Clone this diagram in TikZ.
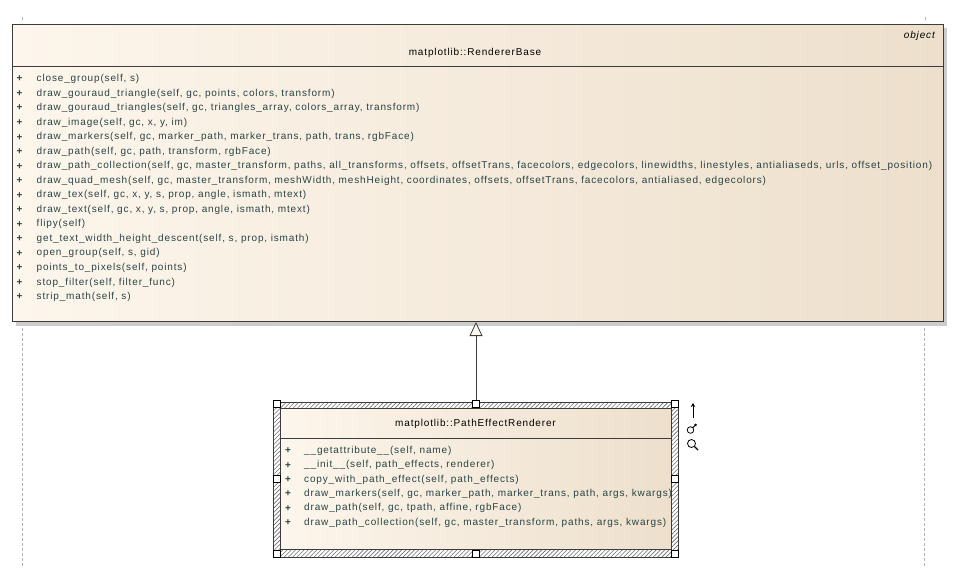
\documentclass[tikz,border=0pt]{standalone}
\usepackage{fontspec}
\setmainfont{Liberation Sans}
\newfontfamily\umlfont[LetterSpace=8.5]{Liberation Sans}
\usepackage{tikz}
\usetikzlibrary{arrows.meta, positioning, patterns.meta, calc}
\definecolor{boxlight}{RGB}{253,246,236}
\definecolor{boxdark}{RGB}{237,223,204}
\definecolor{edgegray}{RGB}{60,60,60}
\definecolor{methodteal}{RGB}{40,68,68}
\definecolor{shadowgray}{RGB}{204,204,204}

\begin{document}
\begin{tikzpicture}[x=1pt, y=-1pt,
    classbox/.style={rectangle, draw=edgegray, line width=1pt, left color=boxlight, right color=boxdark, inner sep=0pt},
    selframe/.style={rectangle, draw=edgegray, line width=0.6pt, pattern={Lines[angle=45, distance=3pt, line width=0.6pt]}, pattern color=gray!85!black, inner sep=0pt},
    handle/.style={rectangle, draw=black, fill=white, line width=0.6pt, minimum size=7pt, inner sep=0pt},
    classname/.style={font=\umlfont\fontsize{10}{12}\selectfont, text=black, inner sep=0pt},
    stereo/.style={font=\umlfont\itshape\fontsize{10}{12}\selectfont, text=black, inner sep=0pt},
    method/.style={anchor=west, font=\umlfont\fontsize{10}{12}\selectfont, text=methodteal, inner sep=0pt},
    plus/.style={font=\bfseries\fontsize{10}{12}\selectfont, text=methodteal, inner sep=0pt},
    inherit/.style={-{Triangle[length=14pt, width=13pt, fill=boxlight]}, draw=edgegray, line width=0.8pt},
    lifeline/.style={draw=gray!60, line width=0.6pt, dash pattern=on 3pt off 2pt}
]
\useasboundingbox (0,0) rectangle (963,574);

% Page lines
\draw[lifeline] (22,17) -- (22,21);
\draw[lifeline] (925,17) -- (925,21);
\draw[lifeline] (22,328) -- (22,567);
\draw[lifeline] (924,328) -- (924,567);

% RendererBase
\fill[shadowgray] (16,28) rectangle (947,326);
\node[classbox, minimum width=931pt, minimum height=297pt] (base) at (477.5,173) {};
\draw[edgegray, line width=1pt] (base.west |- 0,66.5) -- (base.east |- 0,66.5);
\node[stereo, anchor=east] (basestereo) at (935,36) {object};
\node[classname] (basename) at (475,53) {matplotlib::RendererBase};
\foreach \m [count=\i from 0] in {{close\_group(self, s)},
    {draw\_gouraud\_triangle(self, gc, points, colors, transform)},
    {draw\_gouraud\_triangles(self, gc, triangles\_array, colors\_array, transform)},
    {draw\_image(self, gc, x, y, im)},
    {draw\_markers(self, gc, marker\_path, marker\_trans, path, trans, rgbFace)},
    {draw\_path(self, gc, path, transform, rgbFace)},
    {draw\_path\_collection(self, gc, master\_transform, paths, all\_transforms, offsets, offsetTrans, facecolors, edgecolors, linewidths, linestyles, antialiaseds, urls, offset\_position)},
    {draw\_quad\_mesh(self, gc, master\_transform, meshWidth, meshHeight, coordinates, offsets, offsetTrans, facecolors, antialiased, edgecolors)},
    {draw\_tex(self, gc, x, y, s, prop, angle, ismath, mtext)},
    {draw\_text(self, gc, x, y, s, prop, angle, ismath, mtext)},
    {flipy(self)},
    {get\_text\_width\_height\_descent(self, s, prop, ismath)},
    {open\_group(self, s, gid)},
    {points\_to\_pixels(self, points)},
    {stop\_filter(self, filter\_func)},
    {strip\_math(self, s)}} {
  \node[plus] (baseplus\i) at (19.5,79+14.53*\i) {+};
  \node[method] (basemethod\i) at (36.5,79+14.53*\i) {\m};
}

% PathEffectRenderer
\node[selframe, minimum width=405pt, minimum height=155pt] (sel) at (475.5,479.5) {};
\node[classbox, minimum width=391pt, minimum height=141pt] (pathfx) at (475.5,478.5) {};
\draw[edgegray, line width=1pt] (pathfx.west |- 0,438) -- (pathfx.east |- 0,438);
\node[classname] (pathfxname) at (475.5,423.5) {matplotlib::PathEffectRenderer};
\foreach \m [count=\i from 0] in {{\_\_getattribute\_\_(self, name)},
    {\_\_init\_\_(self, path\_effects, renderer)},
    {copy\_with\_path\_effect(self, path\_effects)},
    {draw\_markers(self, gc, marker\_path, marker\_trans, path, args, kwargs)},
    {draw\_path(self, gc, tpath, affine, rgbFace)},
    {draw\_path\_collection(self, gc, master\_transform, paths, args, kwargs)}} {
  \node[plus] (fxplus\i) at (288,451+14.3*\i) {+};
  \node[method] (fxmethod\i) at (304,451+14.3*\i) {\m};
}

% Generalization
\node[minimum width=398pt, minimum height=150pt, inner sep=0pt] (grip) at (476,479) {};
\draw[inherit] (grip.north) -- (grip.north |- base.south);
\foreach \a in {north west, north, north east, west, east, south west, south, south east}
  \node[handle] at (grip.\a) {};

% Tool icons
\draw[-{Stealth[length=4pt, width=4.5pt]}, line width=0.9pt] (693,418) -- (693,403);
\draw[line width=0.8pt] (690.5,430) circle[radius=3.3];
\draw[line width=0.8pt] (692.8,427.7) -- (695,425.5);
\fill (695.6,424.9) circle[radius=1.4];
\draw[line width=0.8pt] (691.5,443.5) circle[radius=4];
\draw[line width=1.2pt] (694.5,446.5) -- (698,450);

\end{tikzpicture}
\end{document}
